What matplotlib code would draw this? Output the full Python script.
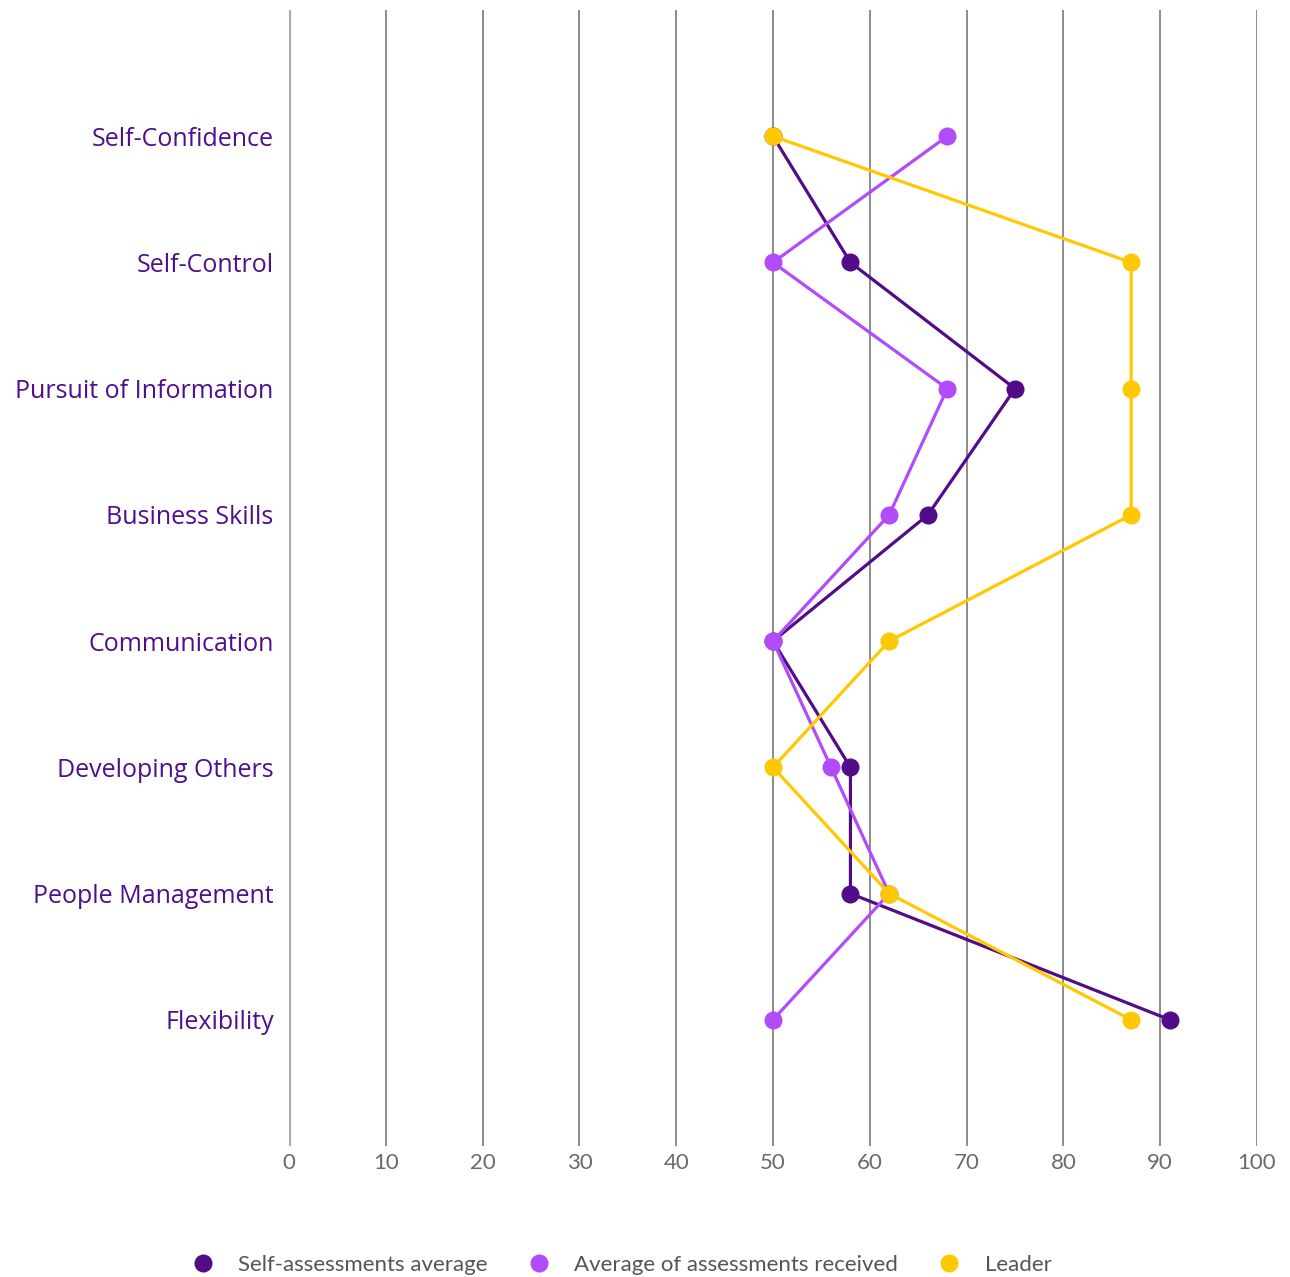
import matplotlib
matplotlib.use("Agg")
import matplotlib.pyplot as plt
from matplotlib.lines import Line2D

plt.rcParams['font.family'] = ['Lato', 'DejaVu Sans']

# ===== data =====
competencies = ['Self-Confidence', 'Self-Control', 'Pursuit of Information', 'Business Skills',
                'Communication', 'Developing Others', 'People Management', 'Flexibility']
self_avg = [50, 58, 75, 66, 50, 58, 58, 91]
received_avg = [68, 50, 68, 62, 50, 56, 62, 50]
leader = [50, 87, 87, 87, 62, 50, 62, 87]
x_ticks = [0, 10, 20, 30, 40, 50, 60, 70, 80, 90, 100]

series_names = ['Self-assessments average', 'Average of assessments received', 'Leader']
colors = ['#520c87', '#b24bfa', '#ffc800']

fig = plt.figure(figsize=(12.9, 12.77), dpi=100)
W, H = 1290, 1277
ax = fig.add_axes([289 / W, 1 - 1146 / H, (1257 - 289) / W, (1146 - 10) / H])

ypos = list(range(len(competencies)))

for vals, col, name in zip([self_avg, received_avg, leader], colors, series_names):
    ax.plot(vals, ypos, color=col, lw=2.3, marker='o', markersize=13,
            markeredgewidth=0, label=name, zorder=3)

ax.set_xlim(0, 100)
ax.set_ylim(8, -1)

# vertical grid lines, the zero line is a thicker pale one
for t in x_ticks:
    if t == 0:
        ax.axvline(t, color='#aaaaaa', lw=3, zorder=1)
    else:
        ax.axvline(t, color='#6e6e6e', lw=1.1, zorder=1)

for s in ax.spines.values():
    s.set_visible(False)

ax.set_xticks(x_ticks)
ax.set_xticklabels([str(t) for t in x_ticks])
ax.tick_params(axis='x', length=0, pad=5, labelsize=16, labelcolor='#6a6a6a')
ax.set_yticks(ypos)
ax.set_yticklabels(competencies, family=['Open Sans', 'DejaVu Sans'])
ax.tick_params(axis='y', length=0, pad=11, labelsize=18, labelcolor='#4f0f8c')

handles = [Line2D([], [], ls='none', marker='o', markersize=13, markeredgewidth=0, color=c)
           for c in colors]
fig.legend(handles, series_names, loc='center', bbox_to_anchor=(616 / W, 1 - 1265 / H),
           ncol=3, frameon=False, fontsize=16, labelcolor='#555555',
           handletextpad=0.6, columnspacing=1.3)

fig.savefig('out.png', dpi=100)
